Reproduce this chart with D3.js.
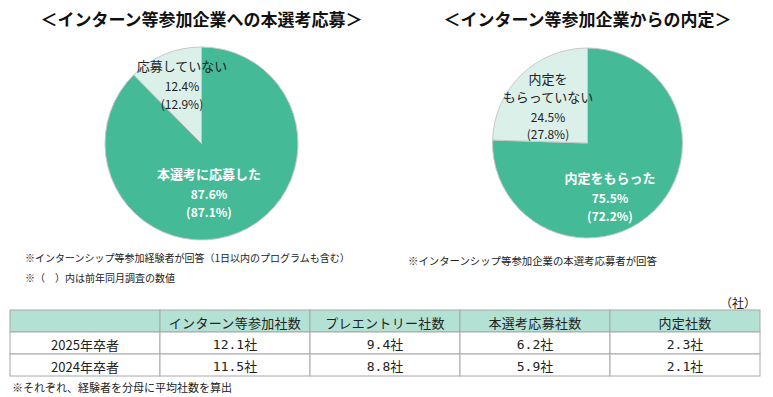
<!DOCTYPE html>
<html><head><meta charset="utf-8">
<script src="https://cdn.jsdelivr.net/npm/d3@7"></script>
<style>
body{margin:0;background:#fff;}
svg{display:block;}
text{font-family:"Noto Sans CJK JP","Noto Sans",sans-serif;}
</style></head>
<body>
<svg id="c" width="773" height="397"></svg>
<script>
// ---- data ----
const pieTitles = ["＜インターン等参加企業への本選考応募＞", "＜インターン等参加企業からの内定＞"];
const pie1Labels = ["本選考に応募した", "応募していない"];
const pie1Values = [87.6, 12.4];
const pie1Prev = [87.1, 12.9];
const pie2Labels = ["内定をもらった", "内定を\nもらっていない"];
const pie2Values = [75.5, 24.5];
const pie2Prev = [72.2, 27.8];
const pieNotes1 = ["※インターンシップ等参加経験者が回答（1日以内のプログラムも含む）", "※（　）内は前年同月調査の数値"];
const pieNotes2 = ["※インターンシップ等参加企業の本選考応募者が回答"];
const tableHeaders = ["", "インターン等参加社数", "プレエントリー社数", "本選考応募社数", "内定社数"];
const rowLabels = ["2025年卒者", "2024年卒者"];
const row2025 = [12.1, 9.4, 6.2, 2.3];
const row2024 = [11.5, 8.8, 5.9, 2.1];
const tableUnit = "（社）";
const tableNote = "※それぞれ、経験者を分母に平均社数を算出";

const svg = d3.select("#c");
const DARK = "#45ba97", LIGHT = "#dcf0ea";

function drawPie(cx, cy, r, title, labels, values, prev, darkLblPos, lightLblPos) {
  const g = svg.append("g").attr("transform", `translate(${cx},${cy})`);
  const pie = d3.pie().sort(null).value(d => d);
  const arc = d3.arc().innerRadius(0).outerRadius(r);
  const arcs = pie(values);
  g.selectAll("path").data(arcs).join("path")
    .attr("d", arc)
    .attr("fill", (d, i) => i === 0 ? DARK : LIGHT)
    .attr("stroke", "#c8c8c8").attr("stroke-width", 1);
  svg.append("text").attr("x", cx).attr("y", 26).attr("text-anchor", "middle")
    .attr("font-size", 17).attr("font-weight", "bold").attr("fill", "#111").text(title);
  const dl = [labels[0], values[0].toFixed(1) + "%", "(" + prev[0].toFixed(1) + "%)"];
  dl.forEach((t, i) => {
    svg.append("text").attr("x", darkLblPos[0]).attr("y", darkLblPos[1] + [0, 20, 38][i])
      .attr("text-anchor", "middle").attr("dominant-baseline", "central")
      .attr("font-size", i === 0 ? 13 : 12).attr("font-weight", "bold").attr("fill", "#fff").text(t);
  });
  const ll = labels[1].split("\n").concat([values[1].toFixed(1) + "%", "(" + prev[1].toFixed(1) + "%)"]);
  const off = lightLblPos[2];
  ll.forEach((t, i) => {
    svg.append("text").attr("x", lightLblPos[0]).attr("y", lightLblPos[1] + off[i])
      .attr("text-anchor", "middle").attr("dominant-baseline", "central")
      .attr("font-size", i < ll.length - 2 ? 13 : 12).attr("fill", "#222").text(t);
  });
}

drawPie(201.5, 143.5, 96.5, pieTitles[0], pie1Labels, pie1Values, pie1Prev, [209, 173], [182, 65, [0, 20, 38]]);
drawPie(587.5, 143, 95, pieTitles[1], pie2Labels, pie2Values, pie2Prev, [610, 177], [548, 78, [0, 18, 38, 55]]);

pieNotes1.forEach((t, i) => {
  svg.append("text").attr("x", 25).attr("y", 257 + i * 20).attr("dominant-baseline", "central")
    .attr("font-size", 10).attr("fill", "#222").text(t);
});
pieNotes2.forEach((t, i) => {
  svg.append("text").attr("x", 408).attr("y", 260 + i * 20).attr("dominant-baseline", "central")
    .attr("font-size", 10.4).attr("fill", "#222").text(t);
});

// ---- table ----
const x = d3.scaleBand().domain(d3.range(tableHeaders.length)).range([10, 760]);
const y = d3.scaleBand().domain(d3.range(3)).range([310, 376]);
const rows = [tableHeaders, [rowLabels[0]].concat(row2025.map(v => v.toFixed(1) + "社")),
  [rowLabels[1]].concat(row2024.map(v => v.toFixed(1) + "社"))];
const tg = svg.append("g");
rows.forEach((row, ri) => {
  row.forEach((cell, ci) => {
    const isNum = ri > 0 && ci > 0;
    tg.append("rect").attr("x", x(ci)).attr("y", y(ri)).attr("width", x.bandwidth()).attr("height", y.bandwidth())
      .attr("fill", ri === 0 ? "#b3e2d4" : "#fff").attr("stroke", "#a8a8a8").attr("stroke-width", 1);
    tg.append("text").attr("x", x(ci) + x.bandwidth() / 2).attr("y", y(ri) + y.bandwidth() / 2 + 1)
      .attr("text-anchor", "middle").attr("dominant-baseline", "central")
      .attr("font-size", 13).attr("fill", "#222")
      .style("font-family", isNum ? '"DejaVu Sans Mono","Noto Sans CJK JP",monospace' : '"Noto Sans CJK JP",sans-serif')
      .style("letter-spacing", ri === 0 ? "0.3px" : "0px").text(cell);
  });
});
svg.append("text").attr("x", 756).attr("y", 302).attr("text-anchor", "end").attr("dominant-baseline", "central")
  .attr("font-size", 12).attr("fill", "#222").text(tableUnit);
svg.append("text").attr("x", 12).attr("y", 387).attr("dominant-baseline", "central")
  .attr("font-size", 11).attr("fill", "#222").text(tableNote);
</script>
</body></html>
